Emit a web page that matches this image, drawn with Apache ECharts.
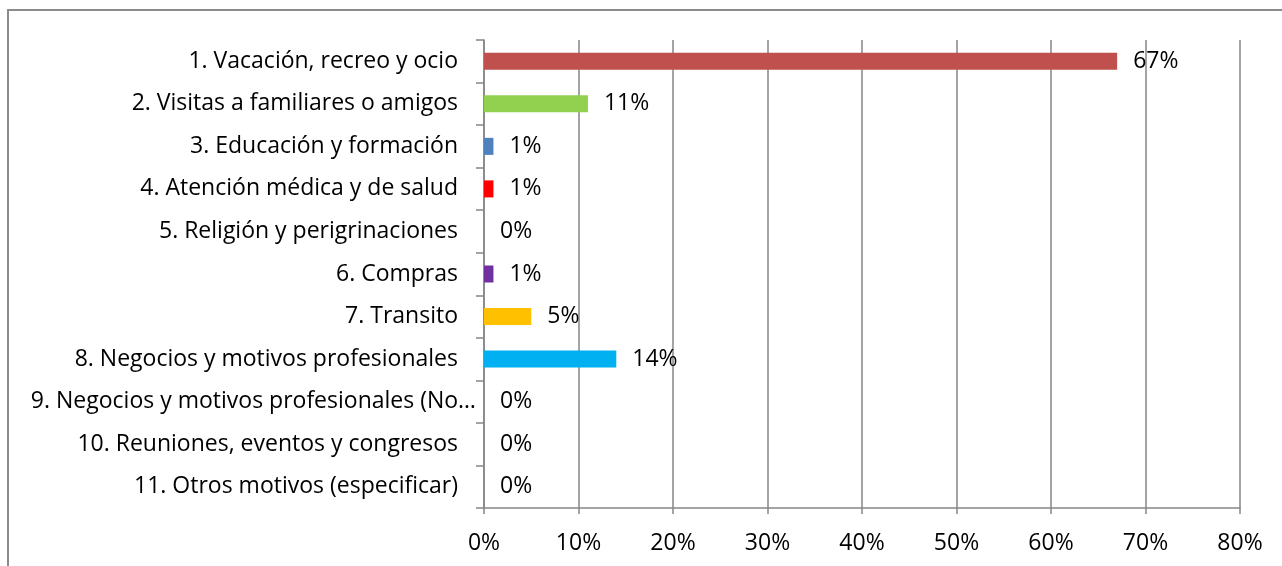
<!DOCTYPE html>
<html>
<head>
<meta charset="utf-8">
<script src="https://cdn.jsdelivr.net/npm/echarts@6/dist/echarts.min.js"></script>
<style>
  html, body { margin: 0; padding: 0; background: #fff; }
  #main { width: 1282px; height: 566px; }
</style>
</head>
<body>
<div id="main"></div>
<script>
var categories = [
    '1. Vacación, recreo y ocio',
    '2. Visitas a familiares o amigos',
    '3. Educación y formación',
    '4. Atención médica y de salud',
    '5. Religión y perigrinaciones',
    '6. Compras',
    '7. Transito',
    '8. Negocios y motivos profesionales',
    '9. Negocios y motivos profesionales (No…',
    '10. Reuniones, eventos y congresos',
    '11. Otros motivos (especificar)'
];
var values = [67, 11, 1, 1, 0, 1, 5, 14, 0, 0, 0];
var colors = ['#C0504D', '#92D050', '#4F81BD', '#FF0000', '#7030A0', '#7030A0',
              '#FFC000', '#00B0F0', '#00B0F0', '#00B0F0', '#00B0F0'];

var myChart = echarts.init(document.getElementById('main'));

var font = '"Open Sans", sans-serif';

// el label truncado (9) llega casi hasta el eje
var catData = categories.map(function (c, i) {
    if (i === 8) return { value: c, textStyle: { padding: [0, -18, 0, 0] } };
    return c;
});

var option = {
    animation: false,
    graphic: [{
        type: 'rect',
        shape: { x: 8, y: 10, width: 1300, height: 600 },
        style: { fill: 'none', stroke: '#8c8c8c', lineWidth: 2 }
    }],
    grid: { left: 484, right: 42, top: 40, bottom: 58 },
    xAxis: {
        type: 'value',
        min: 0, max: 80, interval: 10,
        axisLine: { show: true, lineStyle: { color: '#868686', width: 1.5 } },
        axisTick: { show: true, length: 6, lineStyle: { color: '#868686', width: 1.5 } },
        splitLine: { show: true, lineStyle: { color: '#868686', width: 1.5 } },
        axisLabel: {
            formatter: '{value}%',
            color: '#000', fontFamily: font, fontSize: 23, margin: 24
        }
    },
    yAxis: {
        type: 'category',
        inverse: true,
        data: catData,
        axisLine: { show: true, lineStyle: { color: '#868686', width: 1.5 } },
        axisTick: { show: true, length: 8, alignWithLabel: false, lineStyle: { color: '#868686', width: 1.5 } },
        axisLabel: { color: '#000', fontFamily: font, fontSize: 23, margin: 26 }
    },
    series: [{
        type: 'bar',
        barWidth: '40%',
        data: values.map(function (v, i) {
            return { value: v, itemStyle: { color: colors[i] } };
        }),
        label: {
            show: true,
            position: 'right',
            distance: 16,
            formatter: '{c}%',
            color: '#000', fontFamily: font, fontSize: 23
        }
    }]
};

myChart.setOption(option);
</script>
</body>
</html>
